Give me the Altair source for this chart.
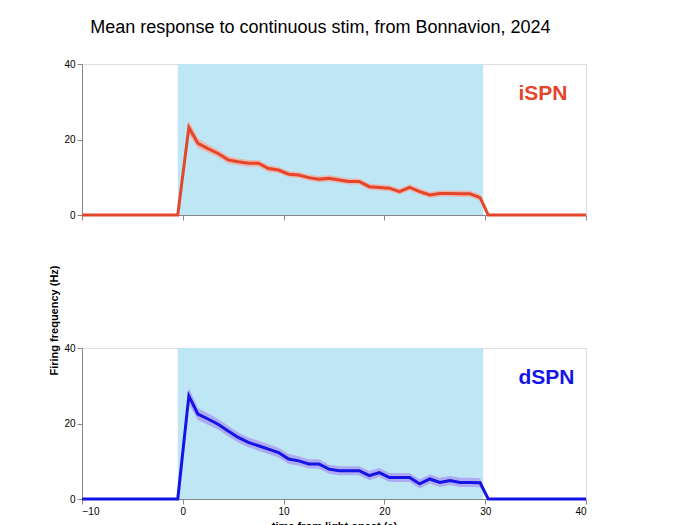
import altair as alt
import pandas as pd

times = [-10, -0.5, 0.6] + [t + 0.5 for t in range(1, 30)] + [30.3, 40]
ispn = [0, 0, 23.2, 19, 17.6, 16.3, 14.6, 14.1, 13.7, 13.7, 12.3, 11.9, 10.8, 10.6, 9.9,
        9.5, 9.7, 9.3, 8.9, 8.9, 7.5, 7.3, 7.1, 6.2, 7.3, 6.2, 5.3, 5.7, 5.7, 5.6, 5.6, 4.6, 0, 0]
dspn = [0, 0, 27.3, 22.5, 21.2, 19.8, 18, 16.3, 15, 14.1, 13.2, 12.3, 10.6, 10.1, 9.3,
        9.3, 7.9, 7.5, 7.5, 7.5, 6.2, 7, 5.7, 5.7, 5.7, 4, 5.3, 4.4, 4.9, 4.4, 4.4, 4.3, 0, 0]
sem_i = [0, 0, 1.8, 1.3, 1.1, 1.0, 1.0, 0.9, 0.9, 0.9, 0.9, 0.8, 0.8, 0.8, 0.8,
         0.8, 0.8, 0.8, 0.8, 0.8, 0.8, 0.8, 0.8, 0.8, 0.8, 0.8, 0.8, 0.8, 0.8, 0.8, 0.8, 0.8, 0, 0]
sem_d = [0, 0, 2.2, 1.6, 1.5, 1.4, 1.4, 1.3, 1.3, 1.3, 1.3, 1.3, 1.3, 1.2, 1.2,
         1.2, 1.2, 1.2, 1.2, 1.2, 1.2, 1.2, 1.2, 1.2, 1.2, 1.2, 1.2, 1.2, 1.2, 1.2, 1.2, 1.2, 0, 0]
stim_on, stim_off = -0.5, 29.8

FONT = "Liberation Sans"


def panel(mean, sem, label, line_col, band_col, show_x, ytitle):
    df = pd.DataFrame({"t": times, "m": mean})
    df["lo"] = [max(0, a - b) for a, b in zip(mean, sem)]
    df["hi"] = [a + b for a, b in zip(mean, sem)]
    xax = alt.Axis(values=[-10, 0, 10, 20, 30, 40], labels=show_x, grid=False,
                   title="time from light onset (s)" if show_x else None)
    yax = alt.Axis(values=[0, 10, 20, 30, 40], grid=False, title=ytitle, titleY=-28)
    x = alt.X("t:Q", scale=alt.Scale(domain=[-10, 40], nice=False), axis=xax)
    y = alt.Y("m:Q", scale=alt.Scale(domain=[0, 40], nice=False), axis=yax)
    stim = alt.Chart(pd.DataFrame({"a": [stim_on], "b": [stim_off], "y0": [0], "y1": [40]})).mark_rect(
        color="#bee6f5").encode(x="a:Q", x2="b:Q", y="y0:Q", y2="y1:Q")
    band = alt.Chart(df).mark_area(color=band_col, opacity=0.75).encode(x=x, y="lo:Q", y2="hi:Q")
    line = alt.Chart(df).mark_line(color=line_col, strokeWidth=3).encode(x=x, y=y)
    txt = alt.Chart(pd.DataFrame({"t": [33.3], "v": [32], "s": [label]})).mark_text(
        color=line_col, fontSize=21, fontWeight="bold", align="left", font=FONT).encode(
        x="t:Q", y="v:Q", text="s:N")
    return alt.layer(stim, band, line, txt).properties(width=504, height=151)


top = panel(ispn, sem_i, "iSPN", "#e5452b", "#f7a898", False, None)
bot = panel(dspn, sem_d, "dSPN", "#1414e6", "#a896f2", True, "Firing frequency (Hz)")

chart = alt.vconcat(top, bot, spacing=42).properties(
    title=alt.TitleParams("Mean response to continuous stim, from Bonnavion, 2024",
                          fontSize=18, fontWeight="normal", font=FONT, anchor="middle", offset=22)
).configure_view(stroke=None).configure_axis(
    domainColor="black", domainWidth=2, tickColor="black", tickWidth=2, tickSize=8,
    labelFontSize=17, labelColor="black", labelFont=FONT, titleFont=FONT,
    titleFontSize=17, titleFontWeight="normal", titleColor="#222", labelPadding=4
).configure(padding={"left": 40, "top": 10, "right": 10, "bottom": 5})

chart.save("out.html", embed_options={"renderer": "svg", "actions": False})
